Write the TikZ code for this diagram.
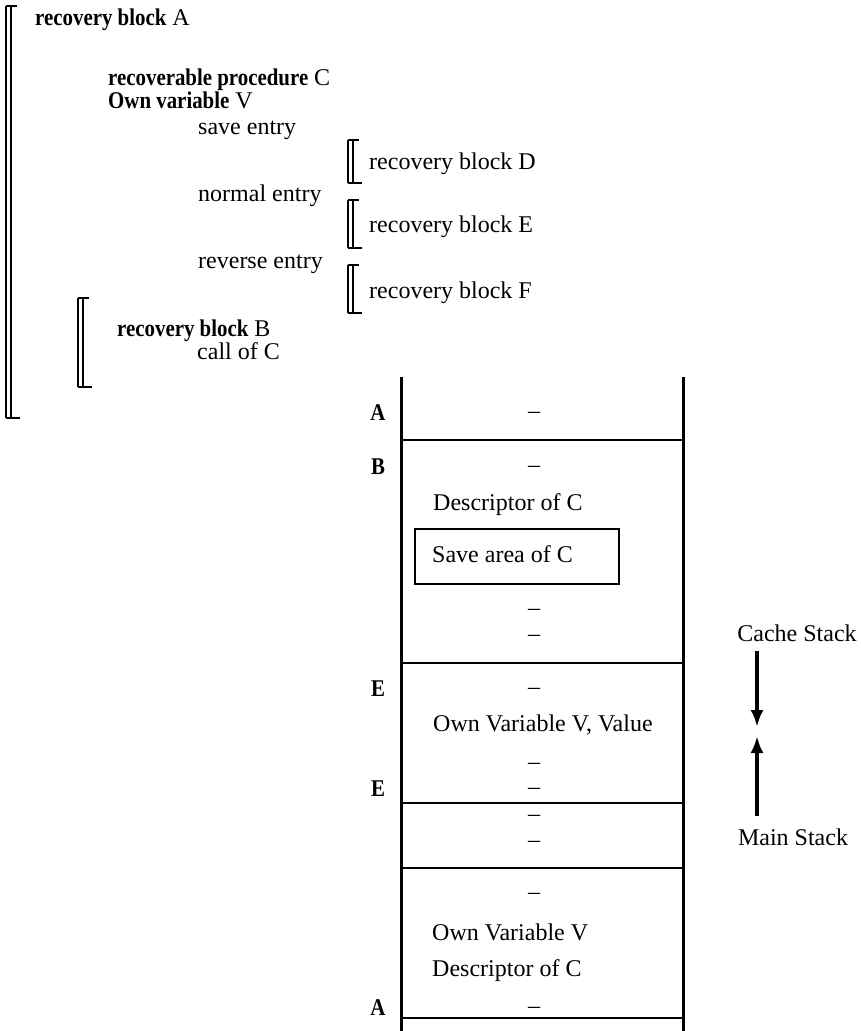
\documentclass[tikz,border=0pt]{standalone}
\usepackage{fontspec}
\setmainfont{Liberation Serif}[BoldFeatures={FakeStretch=0.87}]
\usetikzlibrary{arrows.meta}
\newcommand\rbk[4]{% name, x, ytop, ybottom
  \coordinate (#1t) at (#2,#3);
  \coordinate (#1b) at (#2,#4);
  \draw[brouter] (#1t) -- (#1b);
  \draw[brinner] ([xshift=5pt]#1t) -- ([xshift=5pt]#1b);
  \draw[brinner] (#1t) -- ([xshift=11pt]#1t);
  \draw[brinner] (#1b) -- ([xshift=14pt]#1b);
}
\begin{document}
\begin{tikzpicture}[x=1pt,y=-1pt,
  every node/.style={font=\fontsize{24}{28}\selectfont, inner sep=0pt},
  txt/.style={anchor=base west},
  mid/.style={anchor=base},
  brouter/.style={line width=2pt},
  brinner/.style={line width=1.2pt},
  wall/.style={line width=3pt},
  sep/.style={line width=1.8pt},
  arr/.style={line width=3.5pt,-{Latex[length=17pt,width=13pt]}}]
\useasboundingbox (0,0) rectangle (861,1031);

% program text
\rbk{ba}{6}{6}{418}
\node[txt] (tA) at (35,25) {\textbf{recovery block} A};
\node[txt] (tC) at (108,85) {\textbf{recoverable procedure} C};
\node[txt] (tV) at (108,108) {\textbf{Own variable} V};
\node[txt] (se) at (198,134) {save entry};
\rbk{bd}{348}{140}{183}
\node[txt] (tD) at (369,169) {recovery block D};
\node[txt] (ne) at (198,201) {normal entry};
\rbk{be}{348}{200}{248}
\node[txt] (tE) at (369,232) {recovery block E};
\node[txt] (re) at (198,268) {reverse entry};
\rbk{bf}{348}{265}{313}
\node[txt] (tF) at (369,298) {recovery block F};
\rbk{bb}{78}{298}{387}
\node[txt] (tB) at (117,336) {\textbf{recovery block} B};
\node[txt] (cc) at (197,359) {call of C};

% stack
\coordinate (lt) at (401,377);
\coordinate (rt) at (683,377);
\coordinate (lb) at (401,1031);
\coordinate (rb) at (683,1031);
\draw[wall] (lt) -- (lb);
\draw[wall] (rt) -- (rb);
\foreach \y/\n in {440/h1,663/h2,803/h3,868/h4,1018/h5}{
  \coordinate (\n l) at (401,\y);
  \coordinate (\n r) at (683,\y);
  \draw[sep] (\n l) -- (\n r);
}
% labels
\node[mid] (lA1) at (378,420) {\textbf{A}};
\node[mid] (lB) at (378,474) {\textbf{B}};
\node[mid] (lE1) at (378,696) {\textbf{E}};
\node[mid] (lE2) at (378,796) {\textbf{E}};
\node[mid] (lA2) at (378,1015) {\textbf{A}};
% contents
\node[mid] (d1) at (534,418) {--};
\node[mid] (d2) at (534,472) {--};
\node[txt] (desc1) at (433,510) {Descriptor of C};
\node[draw, line width=2pt, minimum width=204pt, minimum height=55pt, anchor=north west] (save) at (414,528) {};
\node[txt] (savet) at (432,562) {Save area of C};
\node[mid] (d3) at (534,615) {--};
\node[mid] (d4) at (534,641) {--};
\node[mid] (d5) at (534,694) {--};
\node[txt] (ovv) at (433,731) {Own Variable V, Value};
\node[mid] (d6) at (534,769) {--};
\node[mid] (d7) at (534,794) {--};
\node[mid] (d8) at (534,821) {--};
\node[mid] (d9) at (534,847) {--};
\node[mid] (d10) at (534,899) {--};
\node[txt] (ov) at (432,940) {Own Variable V};
\node[txt] (desc2) at (432,976) {Descriptor of C};
\node[mid] (d11) at (534,1013) {--};

% stack direction arrows
\node[anchor=base] (cs) at (797,641) {Cache Stack};
\node[anchor=base] (ms) at (793,845) {Main Stack};
\coordinate (dtip) at (757,727);
\coordinate (utip) at (757,736);
\draw[arr] ([yshift=-10pt]cs.south -| dtip) -- (dtip);
\draw[arr] ([yshift=12pt]ms.north -| utip) -- (utip);
\end{tikzpicture}
\end{document}
